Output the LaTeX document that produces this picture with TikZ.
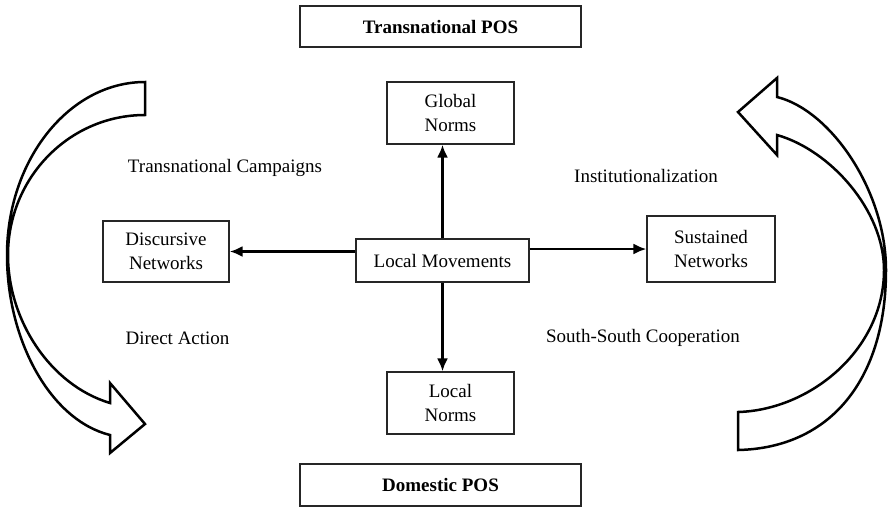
\documentclass[tikz,border=0pt]{standalone}
\usepackage{fontspec}
\setmainfont{Liberation Serif}
\usetikzlibrary{arrows.meta}
\begin{document}
\begin{tikzpicture}[x=1pt,y=-1pt]
		\tikzset{box/.style = {shape=rectangle, draw=black!85, line width=1.4pt, inner sep=0pt, align=center, font=\fontsize{19}{23.5}\selectfont},
			lbl/.style = {font=\fontsize{19}{23.5}\selectfont},
			edge/.style = {line width=2.2pt, -{Latex[length=13pt,width=11pt]}},
			bigarrow/.style = {line width=2.5pt, line join=miter}}

		\useasboundingbox (0,0) rectangle (888,507);

		\node[box, minimum width=281pt, minimum height=41pt, font=\fontsize{19}{23.5}\selectfont\bfseries] (P_1) at (440.5,26.5) {Transnational POS};
		\node[box, minimum width=281pt, minimum height=42pt, font=\fontsize{19}{23.5}\selectfont\bfseries] (P_2) at (440.5,485) {Domestic POS};

		\node[box, minimum width=127pt, minimum height=62pt] (N_1) at (450.5,113) {Global\\Norms};
		\node[box, minimum width=127pt, minimum height=62pt] (N_2) at (450.5,403) {Local\\Norms};
		\node[box, minimum width=173pt, minimum height=43pt] (M) at (442.5,260.5) {Local Movements};
		\node[box, minimum width=126pt, minimum height=61pt] (W_1) at (166,251.5) {Discursive\\Networks};
		\node[box, minimum width=128pt, minimum height=66pt] (W_2) at (711,249) {Sustained\\Networks};


		\node[lbl] (L_1) at (225,168) {Transnational Campaigns};
		\node[lbl] (L_2) at (177.5,338) {Direct Action};
		\node[lbl] (L_3) at (646,176) {Institutionalization};
		\node[lbl] (L_4) at (643,338) {South-South Cooperation};


		\draw[edge] (M.north) -- (M.north |- N_1.south);
		\draw[edge] (M.south) -- (M.south |- N_2.north);
		\draw[edge] (M.west |- W_1.east) -- (W_1.east);
		\draw[edge] (M.east |- W_2.west) -- (W_2.west);


		\draw[bigarrow] (145,82) .. controls (69,82) and (7,160) .. (7,255) .. controls (7,340) and (50,420) .. (110,435) -- (110,453) -- (145,424) -- (110,383) -- (110,403) .. controls (50,385) and (8,320) .. (8,255) .. controls (8,178) and (69,115) .. (145,115) -- cycle;
		\draw[bigarrow] (738,450) .. controls (830,448) and (886,380) .. (886,270) .. controls (886,190) and (830,110) .. (777,97) -- (777,78) -- (738,112) -- (777,155) -- (777,135) .. controls (830,150) and (884,210) .. (884,270) .. controls (884,350) and (810,410) .. (738,412) -- cycle;

	\end{tikzpicture}
\end{document}
